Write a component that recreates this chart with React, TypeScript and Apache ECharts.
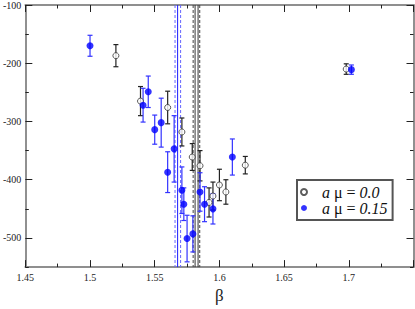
import React, { useEffect, useRef } from "react";
import * as echarts from "echarts";

// a mu = 0.0 (open black circles)
const beta0 = [1.52, 1.539, 1.56, 1.571, 1.579, 1.585, 1.592, 1.595, 1.6, 1.605, 1.62, 1.698];
const val0 = [-187, -265, -276, -318, -361, -376, -439, -428, -409, -421, -375, -210];
const err0 = [19, 25, 28, 24, 23, 26, 25, 24, 27, 21, 15, 9];

// a mu = 0.15 (filled blue circles)
const beta15 = [1.5, 1.541, 1.545, 1.55, 1.555, 1.56, 1.565, 1.571, 1.5725, 1.575, 1.5795, 1.585, 1.5885, 1.595, 1.61, 1.702];
const val15 = [-170, -272, -249, -314, -302, -387, -347, -418, -442, -501, -493, -421, -442, -450, -361, -211];
const err15 = [18, 29, 27, 25, 42, 35, 57, 40, 28, 40, 31, 33, 30, 26, 31, 8];

// vertical lines (critical beta estimates with error band): 1 = dashed, 0 = solid
const blueLines = [1.5657, 1.5677, 1.57];
const blueDashed = [1, 0, 1];
const blackLines = [1.5797, 1.5812, 1.5835, 1.5848];
const blackDashed = [1, 0, 0, 1];

const xMajor = [1.45, 1.5, 1.55, 1.6, 1.65, 1.7, 1.75];
const xMinor = [1.475, 1.525, 1.575, 1.625, 1.675, 1.725];
const xLabels = [1.45, 1.5, 1.55, 1.6, 1.65, 1.7];
const yMajor = [-500, -400, -300, -200, -100];
const yMinor = [-550, -450, -350, -250, -150];
const yLabels = [-500, -400, -300, -200, -100];

const seriesNames = ["a μ = 0.0", "a μ = 0.15"];

const FONT = "'Liberation Serif', 'Times New Roman', serif";
const FRAME = "#888";
const TICK = "#222";
const BLUE = "#0000ff";
const BLUE_BAR = "#3333ff";
const BLACK_BAR = "#222";
const YMIN = -550;
const YMAX = -100;

function xAxis(position: string, ticks: number[], len: number, labels: number[] | null) {
  return {
    type: "value",
    min: 1.45,
    max: 1.75,
    position,
    axisLine: { show: true, onZero: false, lineStyle: { color: FRAME, width: 1.5 } },
    axisTick: { show: true, inside: true, length: len, customValues: ticks, lineStyle: { color: TICK, width: 1 } },
    axisLabel: labels
      ? { show: true, customValues: labels, fontFamily: FONT, fontSize: 10, color: "#222", margin: 5 }
      : { show: false },
    splitLine: { show: false },
  };
}

function yAxis(position: string, ticks: number[], len: number, labels: number[] | null) {
  return {
    type: "value",
    min: YMIN,
    max: YMAX,
    position,
    axisLine: { show: true, onZero: false, lineStyle: { color: FRAME, width: 1.5 } },
    axisTick: { show: true, inside: true, length: len, customValues: ticks, lineStyle: { color: TICK, width: 1 } },
    axisLabel: labels
      ? { show: true, customValues: labels, fontFamily: FONT, fontSize: 10, color: "#222", margin: 4 }
      : { show: false },
    splitLine: { show: false },
  };
}

function errorBars(xs: number[], ys: number[], es: number[], color: string) {
  return {
    type: "custom",
    xAxisIndex: 0,
    yAxisIndex: 0,
    silent: true,
    z: 3,
    encode: { x: 0, y: 1 },
    data: xs.map((x, i) => [x, ys[i], es[i]]),
    renderItem: (params: any, api: any) => {
      const x = api.value(0);
      const y = api.value(1);
      const e = api.value(2);
      const top = api.coord([x, y + e]);
      const bot = api.coord([x, y - e]);
      const w = 2.5;
      const style = { stroke: color, lineWidth: 1.2 };
      return {
        type: "group",
        children: [
          { type: "line", shape: { x1: top[0], y1: top[1], x2: bot[0], y2: bot[1] }, style },
          { type: "line", shape: { x1: top[0] - w, y1: top[1], x2: top[0] + w, y2: top[1] }, style },
          { type: "line", shape: { x1: bot[0] - w, y1: bot[1], x2: bot[0] + w, y2: bot[1] }, style },
        ],
      };
    },
  };
}

function vLines(xs: number[], dashed: number[], solidColor: string, dashColor: string) {
  return {
    type: "custom",
    xAxisIndex: 0,
    yAxisIndex: 0,
    silent: true,
    z: 2,
    encode: { x: 0 },
    data: xs.map((x, i) => [x, dashed[i]]),
    renderItem: (params: any, api: any) => {
      const x = api.value(0);
      const d = api.value(1);
      const top = api.coord([x, YMAX]);
      const bot = api.coord([x, YMIN]);
      return {
        type: "line",
        shape: { x1: top[0], y1: top[1], x2: bot[0], y2: bot[1] },
        style: { stroke: d ? dashColor : solidColor, lineWidth: 1, lineDash: d ? [3, 2] : null },
      };
    },
  };
}

export default function App() {
  const ref = useRef<HTMLDivElement>(null);
  useEffect(() => {
    if (!ref.current) return;
    const chart = echarts.init(ref.current, null, { renderer: "svg" });
    chart.setOption({
      animation: false,
      backgroundColor: "#fff",
      textStyle: { fontFamily: FONT },
      grid: { left: 24, right: 1.5, top: 5, bottom: 32, containLabel: false },
      xAxis: [
        { ...xAxis("bottom", xMajor, 7, xLabels), name: "β", nameLocation: "middle", nameGap: 12, nameTextStyle: { fontFamily: FONT, fontSize: 17, color: "#222" } },
        xAxis("bottom", xMinor, 3.5, null),
        xAxis("top", xMajor, 7, null),
        xAxis("top", xMinor, 3.5, null),
      ],
      yAxis: [
        yAxis("left", yMajor, 7, yLabels),
        yAxis("left", yMinor, 3.5, null),
        yAxis("right", yMajor, 7, null),
        yAxis("right", yMinor, 3.5, null),
      ],
      legend: {
        left: 297,
        top: 180,
        orient: "vertical",
        backgroundColor: "#fff",
        borderColor: "#555",
        borderWidth: 2,
        padding: [4, 5, 4, 3],
        itemGap: 0,
        itemWidth: 16,
        itemHeight: 6,
        data: seriesNames,
        formatter: (name: string) => {
          const v = name.split("= ")[1];
          return `{i|a} {n|μ = }{i|${v}}`;
        },
        textStyle: {
          fontFamily: FONT,
          fontSize: 16,
          color: "#111",
          padding: [0, 0, 0, 5],
          rich: {
            i: { fontFamily: FONT, fontSize: 16, fontStyle: "italic", color: "#111", lineHeight: 16 },
            n: { fontFamily: FONT, fontSize: 16, color: "#111", lineHeight: 16 },
          },
        },
      },
      series: [
        vLines(blueLines, blueDashed, "#1a1aff", "#6666ff"),
        vLines(blackLines, blackDashed, "#333", "#444"),
        errorBars(beta0, val0, err0, BLACK_BAR),
        errorBars(beta15, val15, err15, BLUE_BAR),
        {
          name: seriesNames[0],
          type: "scatter",
          xAxisIndex: 0,
          yAxisIndex: 0,
          z: 4,
          symbol: "circle",
          symbolSize: 6,
          itemStyle: { color: "#fff", borderColor: "#333", borderWidth: 1 },
          data: beta0.map((b, i) => [b, val0[i]]),
        },
        {
          name: seriesNames[1],
          type: "scatter",
          xAxisIndex: 0,
          yAxisIndex: 0,
          z: 5,
          symbol: "circle",
          symbolSize: 7,
          itemStyle: { color: BLUE },
          data: beta15.map((b, i) => [b, val15[i]]),
        },
      ],
    });
    return () => chart.dispose();
  }, []);
  return <div ref={ref} style={{ position: "fixed", left: 0, top: 0, width: 415, height: 309 }} />;
}
